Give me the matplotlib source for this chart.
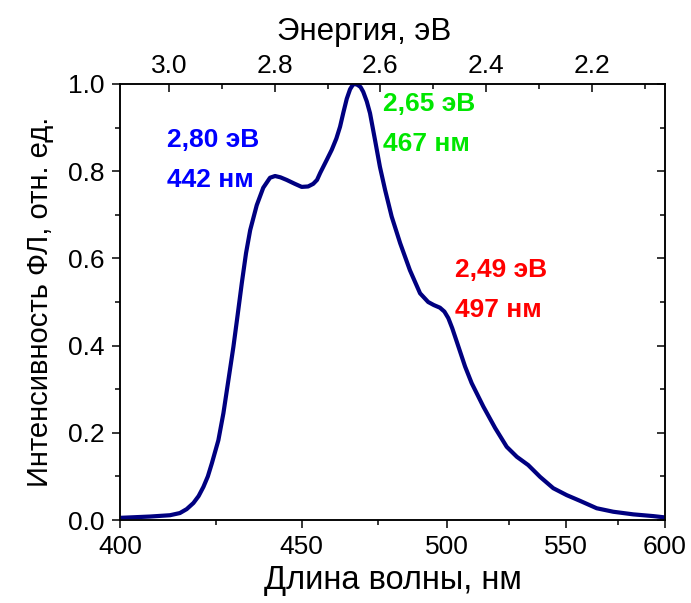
import numpy as np
import matplotlib
matplotlib.use('Agg')
import matplotlib.pyplot as plt
from matplotlib.ticker import FixedLocator, NullFormatter

plt.rcParams['font.family'] = ['Liberation Sans', 'DejaVu Sans']

HC = 1237.0  # eV*nm, as the top scale of the original sits

# spectrum (wavelength in nm, normalised PL intensity)
wl = [400.0, 407.5, 412.6, 415.2, 417.0, 418.8, 420.2, 421.5, 422.7, 423.8,
      425.6, 427.0, 428.4, 429.8, 431.0, 432.2, 433.4, 434.6, 436.5, 438.4,
      440.4, 441.9, 443.5, 445.4, 447.9, 450.0, 452.0, 453.6, 454.8, 455.8,
      457.9, 459.5, 461.0, 462.2, 463.3, 464.4, 465.5, 466.4, 467.1, 468.0,
      469.0, 469.9, 471.1, 472.2, 473.9, 475.6, 477.4, 479.7, 482.7, 486.2,
      489.9, 492.9, 495.0, 497.3, 499.0, 500.5, 502.0, 503.7, 507.0, 509.6,
      514.3, 519.1, 523.9, 528.2, 533.1, 538.3, 544.2, 550.4, 556.6, 564.6,
      572.8, 583.0, 593.6, 600.0]
pl = [0.005, 0.008, 0.011, 0.016, 0.025, 0.039, 0.055, 0.076, 0.100, 0.130,
      0.183, 0.245, 0.321, 0.397, 0.470, 0.544, 0.612, 0.665, 0.722, 0.762,
      0.785, 0.789, 0.786, 0.780, 0.771, 0.764, 0.765, 0.771, 0.780, 0.796,
      0.826, 0.849, 0.875, 0.902, 0.935, 0.966, 0.988, 0.998, 1.000, 0.998,
      0.993, 0.982, 0.960, 0.933, 0.872, 0.810, 0.757, 0.696, 0.635, 0.573,
      0.520, 0.500, 0.493, 0.487, 0.478, 0.463, 0.440, 0.410, 0.352, 0.314,
      0.260, 0.211, 0.168, 0.145, 0.126, 0.099, 0.073, 0.057, 0.044, 0.027,
      0.019, 0.013, 0.009, 0.006]

wl_ticks = [400, 450, 500, 550, 600]
wl_minor = [425, 475, 525, 575]
ev_ticks = [3.0, 2.8, 2.6, 2.4, 2.2]
ev_minor = [2.9, 2.7, 2.5, 2.3, 2.1]

# peak labels: (text lines, wavelength pos, y pos, colour)
peak_text = [['2,80 эВ', '442 нм'], ['2,65 эВ', '467 нм'], ['2,49 эВ', '497 нм']]
peak_x = [411.8, 476.6, 503.0]
peak_y = [0.872, 0.954, 0.573]
peak_col = ['#0000FF', '#00E600', '#FF0000']


def fwd(x):
    return -1.0 / np.asarray(x, dtype=float)


def inv(x):
    return -1.0 / np.asarray(x, dtype=float)


fig = plt.figure(figsize=(6.91, 6.03), dpi=100)
ax = fig.add_axes([0.1737, 0.1376, 0.9624 - 0.1737, 0.8607 - 0.1376])
ax.set_xscale('function', functions=(fwd, inv))
ax.plot(wl, pl, color='#000080', lw=3, solid_joinstyle='round', zorder=3)
ax.set_xlim(400, 600)
ax.set_ylim(0, 1.0)

ax.xaxis.set_major_locator(FixedLocator(wl_ticks))
ax.xaxis.set_minor_locator(FixedLocator(wl_minor))
ax.xaxis.set_minor_formatter(NullFormatter())
ax.set_xticklabels([str(t) for t in wl_ticks])
ax.set_yticks(np.arange(0, 1.01, 0.2))
ax.set_yticklabels(['%.1f' % v for v in np.arange(0, 1.01, 0.2)])
ax.set_yticks(np.arange(0.1, 1.0, 0.2), minor=True)

ax.tick_params(axis='both', which='major', direction='out', length=6, width=1.1,
               labelsize=19, pad=5)
ax.tick_params(axis='both', which='minor', direction='out', length=3.5, width=1.1)
ax.tick_params(axis='y', which='both', right=True, labelright=False)
for t in ax.yaxis.get_major_ticks() + ax.yaxis.get_minor_ticks():
    t.tick2line.set_marker(matplotlib.lines.TICKLEFT)

ax.set_xlabel('Длина волны, нм', fontsize=23.5, labelpad=4)
ax.set_ylabel('Интенсивность ФЛ, отн. ед.', fontsize=21, labelpad=10)

# top energy axis
ax2 = ax.twiny()
ax2.set_xscale('function', functions=(fwd, inv))
ax2.set_xlim(400, 600)
ax2.xaxis.set_major_locator(FixedLocator([HC / e for e in ev_ticks]))
ax2.xaxis.set_minor_locator(FixedLocator([HC / e for e in ev_minor]))
ax2.xaxis.set_minor_formatter(NullFormatter())
ax2.set_xticklabels(['%.1f' % e for e in ev_ticks])
ax2.tick_params(axis='x', which='major', direction='in', length=6, width=1.1,
                labelsize=19, pad=4)
ax2.tick_params(axis='x', which='minor', direction='in', length=3.5, width=1.1)
ax2.set_xlabel('Энергия, эВ', fontsize=22.5, labelpad=6)
ax2.xaxis.set_label_coords(0.448, 1.10)

for a in (ax, ax2):
    for s in a.spines.values():
        s.set_linewidth(1.1)

for lines, x, y, c in zip(peak_text, peak_x, peak_y, peak_col):
    ax.text(x, y, lines[0], color=c, fontsize=19, fontweight='bold',
            ha='left', va='center')
    ax.text(x, y - 0.092, lines[1], color=c, fontsize=19, fontweight='bold',
            ha='left', va='center')

fig.savefig('out.png', dpi=100)
